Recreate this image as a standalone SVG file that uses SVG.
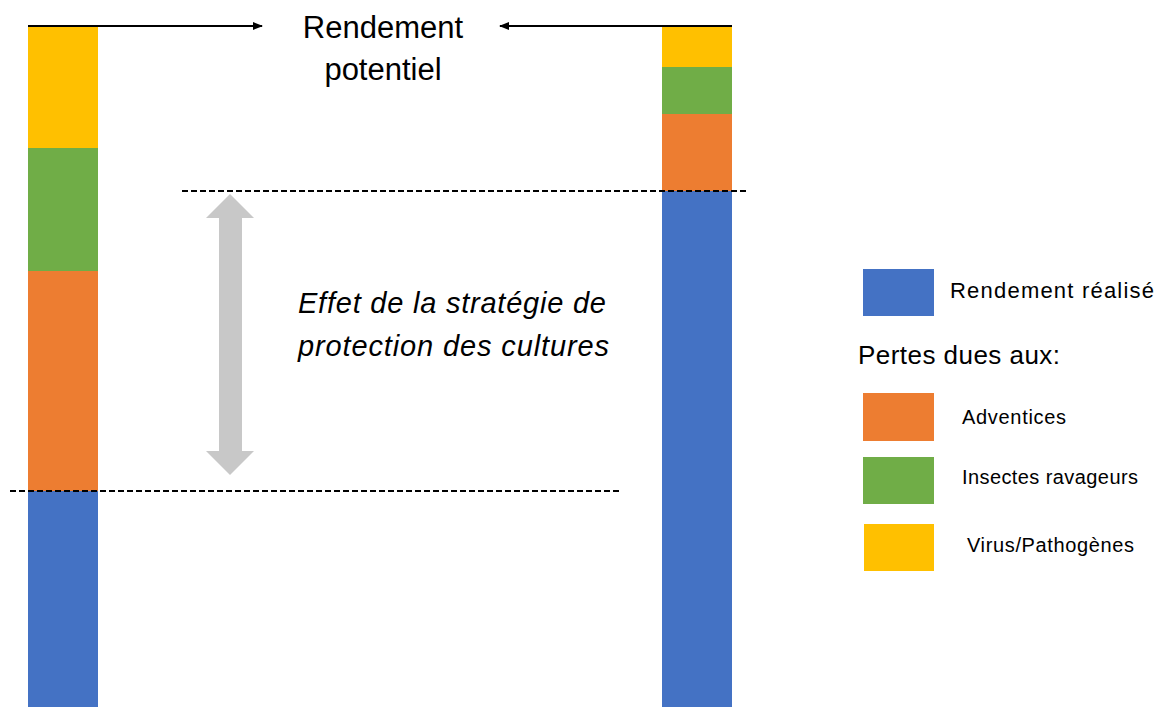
<svg xmlns="http://www.w3.org/2000/svg" width="1160" height="707" viewBox="0 0 1160 707">
<style>
.t{font-family:"Liberation Sans",Arial,sans-serif;fill:#000}
.blue{fill:#4472C4}.orange{fill:#ED7D31}.green{fill:#70AD47}.yellow{fill:#FFC000}
.dash{stroke:#000;stroke-width:2;stroke-dasharray:6,3;fill:none}
.arr{stroke:#000;stroke-width:2;fill:none}
</style>
<defs>
<marker id="ah" viewBox="0 0 10 10" refX="9" refY="5" markerWidth="10" markerHeight="10" markerUnits="userSpaceOnUse" orient="auto">
<path d="M0,1 L10,5 L0,9 Z" fill="#000"/>
</marker>
</defs>
<rect width="1160" height="707" fill="#fff"/>
<g id="bar-left">
<rect class="yellow" x="28" y="27" width="70" height="121"/>
<rect class="green" x="28" y="148" width="70" height="123"/>
<rect class="orange" x="28" y="271" width="70" height="220"/>
<rect class="blue" x="28" y="491" width="70" height="216"/>
</g>
<g id="bar-right">
<rect class="yellow" x="662" y="27" width="70" height="40"/>
<rect class="green" x="662" y="67" width="70" height="47"/>
<rect class="orange" x="662" y="114" width="70" height="77"/>
<rect class="blue" x="662" y="191" width="70" height="516"/>
</g>
<g id="connectors">
<line class="arr" x1="28" y1="26" x2="262" y2="26" marker-end="url(#ah)"/>
<line class="arr" x1="732" y1="26" x2="500" y2="26" marker-end="url(#ah)"/>
<line class="dash" x1="182" y1="191" x2="748" y2="191"/>
<line class="dash" x1="10" y1="491" x2="622" y2="491"/>
<path id="gray-arrow" d="M230,194 L254,218 L242,218 L242,451 L254,451 L230,475 L206,451 L219,451 L219,218 L206,218 Z" fill="#C8C8C8"/>
</g>
<g id="label-potentiel">
<text class="t" x="383" y="38" font-size="31" text-anchor="middle">Rendement</text>
<text class="t" x="383" y="80" font-size="31" text-anchor="middle">potentiel</text>
</g>
<g id="label-effet">
<text class="t" x="298" y="313" font-size="29" font-style="italic" textLength="308" lengthAdjust="spacing">Effet de la stratégie de</text>
<text class="t" x="298" y="356" font-size="29" font-style="italic" textLength="311" lengthAdjust="spacing">protection des cultures</text>
</g>
<g id="legend-blue">
<rect class="blue" x="863" y="269" width="71" height="47"/>
<text class="t" x="950" y="298" font-size="22" textLength="204" lengthAdjust="spacing">Rendement  réalisé</text>
</g>
<g id="legend-title">
<text class="t" x="858" y="364" font-size="26" textLength="202" lengthAdjust="spacing">Pertes dues aux:</text>
</g>
<g id="legend-orange">
<rect class="orange" x="863" y="393" width="71" height="48"/>
<text class="t" x="962" y="424" font-size="20" textLength="104" lengthAdjust="spacing">Adventices</text>
</g>
<g id="legend-green">
<rect class="green" x="863" y="457" width="71" height="47"/>
<text class="t" x="962" y="484" font-size="20" textLength="176" lengthAdjust="spacing">Insectes ravageurs</text>
</g>
<g id="legend-yellow">
<rect class="yellow" x="864" y="524" width="70" height="47"/>
<text class="t" x="967" y="552" font-size="20" textLength="167" lengthAdjust="spacing">Virus/Pathogènes</text>
</g>
</svg>
